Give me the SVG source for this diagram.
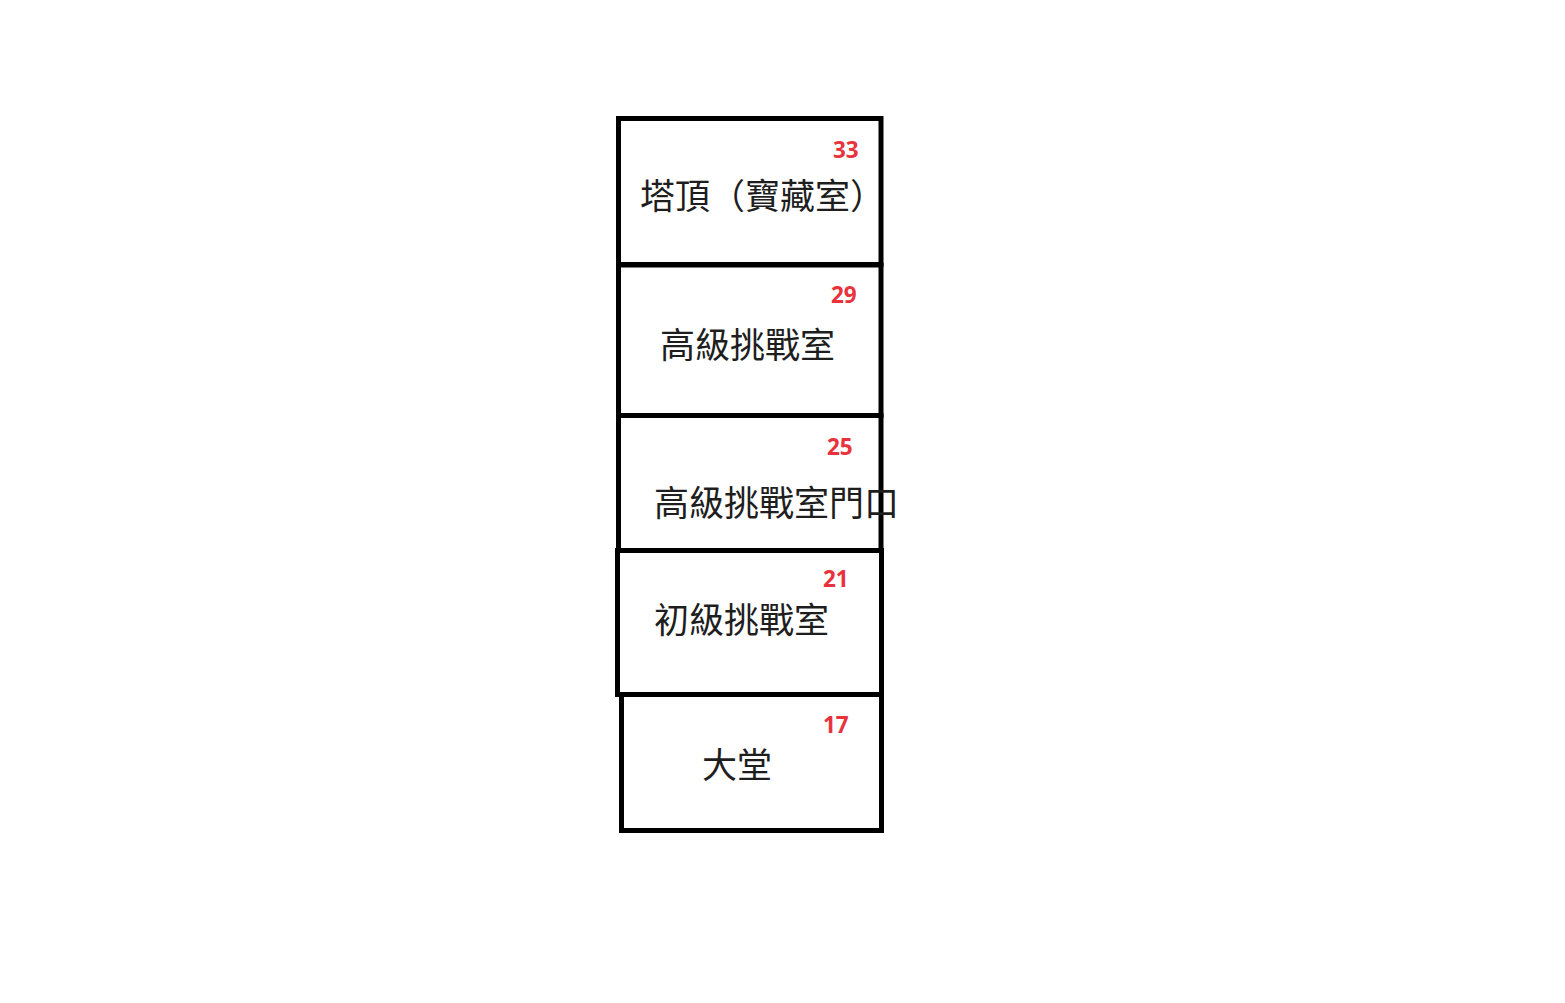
<svg xmlns="http://www.w3.org/2000/svg" width="1565" height="1003" viewBox="0 0 1565 1003">
<style>
.box{fill:none;stroke:#000;stroke-width:5}
.lbl{font-family:"Noto Sans CJK TC","Noto Sans CJK SC",sans-serif;font-size:35px;fill:#1e1e1e}
.num{font-family:"Open Sans","Noto Sans",sans-serif;font-weight:bold;font-size:22.5px;fill:#e8323c}
</style>
<rect width="1565" height="1003" fill="#fff"/>
<g id="floor33">
<rect class="box" x="618.5" y="118.5" width="262.5" height="146"/>
<text class="num" x="833" y="157.5">33</text>
<text class="lbl" x="640" y="209">塔頂（寶藏室）</text>
</g>
<g id="floor29">
<rect class="box" x="618.5" y="265" width="262.5" height="150.5"/>
<text class="num" x="831" y="303">29</text>
<text class="lbl" x="660" y="358">高級挑戰室</text>
</g>
<g id="floor25">
<rect class="box" x="618.5" y="415.5" width="262.5" height="135"/>
<text class="num" x="827" y="455">25</text>
<text class="lbl" x="654" y="516">高級挑戰室門口</text>
</g>
<g id="floor21">
<rect class="box" x="617.5" y="550.5" width="264" height="144"/>
<text class="num" x="823" y="587">21</text>
<text class="lbl" x="654" y="633">初級挑戰室</text>
</g>
<g id="floor17">
<rect class="box" x="621.5" y="694.5" width="260" height="136"/>
<text class="num" x="823" y="733">17</text>
<text class="lbl" x="702" y="778">大堂</text>
</g>
<g id="connectors"></g>
</svg>
